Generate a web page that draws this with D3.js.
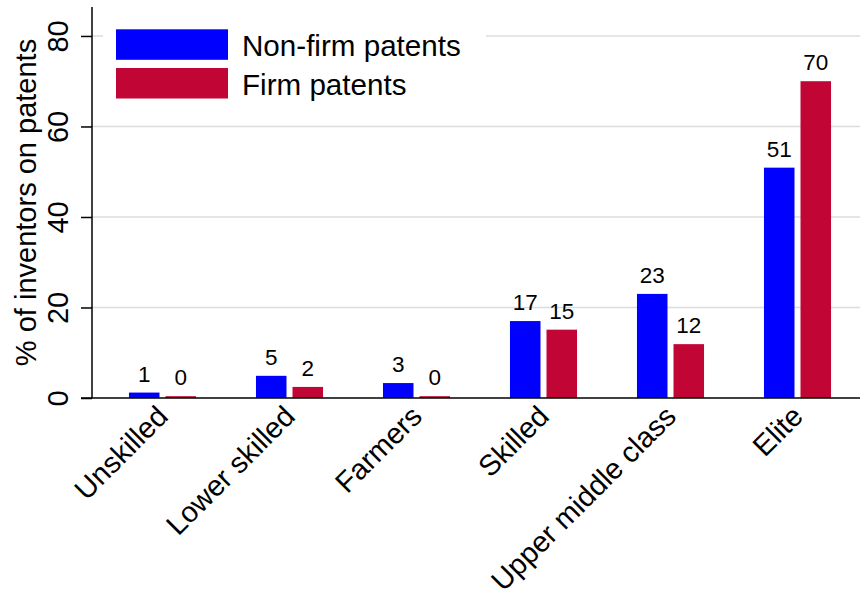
<!DOCTYPE html>
<html><head><meta charset="utf-8">
<script src="https://cdn.jsdelivr.net/npm/d3@7"></script>
<style>
html,body{margin:0;padding:0;background:#fff;}
svg{display:block;font-family:"Liberation Sans",Arial,Helvetica,sans-serif;}
</style></head>
<body><svg id="chart" width="860" height="597"></svg>
<script>
const categories = ["Unskilled","Lower skilled","Farmers","Skilled","Upper middle class","Elite"];
const seriesNames = ["Non-firm patents","Firm patents"];
const nonFirm = [1.2, 4.9, 3.3, 17.0, 23.0, 50.9];
const firm = [0.4, 2.45, 0.4, 15.1, 11.9, 70.0];
const nonFirmLabels = ["1","5","3","17","23","51"];
const firmLabels = ["0","2","0","15","12","70"];
const yTicks = [0,20,40,60,80];
const colors = ["#0000ff","#c10534"];
const yTitle = "% of inventors on patents";

const svg = d3.select("#chart");
const axisX = 92, baseY = 398, topY = 7, rightX = 860;

const y = d3.scaleLinear().domain([0, 86.4]).range([baseY, topY]);
const x = d3.scaleBand().domain(categories).range([99, 861]).paddingInner(0.472).paddingOuter(0.236);
const xs = d3.scaleBand().domain(seriesNames).range([0, x.bandwidth()]).paddingInner(0.1644);

// gridlines
svg.append("g").selectAll("line").data(yTicks.filter(d=>d>0)).join("line")
  .attr("x1", axisX).attr("x2", rightX)
  .attr("y1", d=>y(d)).attr("y2", d=>y(d))
  .attr("stroke", "#dcdcdc").attr("stroke-width", 1.6);

const data = categories.map((c,i)=>({cat:c, vals:[
  {s:seriesNames[0], v:nonFirm[i], lab:nonFirmLabels[i], col:colors[0]},
  {s:seriesNames[1], v:firm[i], lab:firmLabels[i], col:colors[1]}]}));

const groups = svg.append("g").selectAll("g").data(data).join("g")
  .attr("transform", d=>`translate(${x(d.cat)},0)`);
groups.selectAll("rect").data(d=>d.vals).join("rect")
  .attr("x", d=>xs(d.s)).attr("width", xs.bandwidth())
  .attr("y", d=>y(d.v)).attr("height", d=>baseY - y(d.v))
  .attr("fill", d=>d.col);
groups.selectAll("text").data(d=>d.vals).join("text")
  .attr("x", d=>xs(d.s)+xs.bandwidth()/2).attr("y", d=>y(d.v)-11)
  .attr("text-anchor","middle").attr("font-size", 22.5).attr("fill","#000")
  .text(d=>d.lab);

// y axis
const yAxis = d3.axisLeft(y).tickValues(yTicks).tickSize(11).tickFormat(d3.format("d"));
const ya = svg.append("g").attr("transform", `translate(${axisX},0)`).call(yAxis);
ya.select(".domain").remove();
ya.selectAll(".tick line").attr("stroke","#000").attr("stroke-width",1.5);
ya.selectAll(".tick text").remove();
ya.selectAll(".tick").append("text")
  .attr("transform","translate(-24,0) rotate(-90)")
  .attr("text-anchor","middle").attr("font-size",29).attr("fill","#000")
  .attr("font-family",'"Liberation Sans",Arial,sans-serif')
  .text(d=>d);
svg.append("line").attr("x1",axisX).attr("x2",axisX).attr("y1",topY).attr("y2",baseY)
  .attr("stroke","#000").attr("stroke-width",1.5);

// x axis
const xa = svg.append("g").attr("transform", `translate(0,${baseY})`)
  .call(d3.axisBottom(x).tickSize(0).tickFormat(""));
xa.select(".domain").remove();
svg.append("line").attr("x1",81).attr("x2",rightX).attr("y1",baseY).attr("y2",baseY)
  .attr("stroke","#000").attr("stroke-width",1.5);
xa.selectAll(".tick").append("text")
  .attr("transform","translate(0,13) rotate(-45)")
  .attr("text-anchor","end").attr("dy","0.35em")
  .attr("font-size",29).attr("fill","#000")
  .attr("font-family",'"Liberation Sans",Arial,sans-serif')
  .text(d=>d);

// y title
svg.append("text").attr("transform", `translate(36,${(topY+baseY)/2}) rotate(-90)`)
  .attr("text-anchor","middle").attr("font-size",29).attr("fill","#000")
  .text(yTitle);

// legend
const lg = svg.append("g");
lg.append("rect").attr("x",103).attr("y",16).attr("width",383).attr("height",96).attr("fill","#fff");
const li = lg.selectAll("g").data(seriesNames).join("g")
  .attr("transform",(d,i)=>`translate(116,${29.3+i*38.7})`);
li.append("rect").attr("width",112).attr("height",30.5).attr("fill",(d,i)=>colors[i]);
li.append("text").attr("x",126).attr("y",16.5).attr("dy","0.35em")
  .attr("font-size",29.6).attr("fill","#000").text(d=>d);
</script></body></html>
